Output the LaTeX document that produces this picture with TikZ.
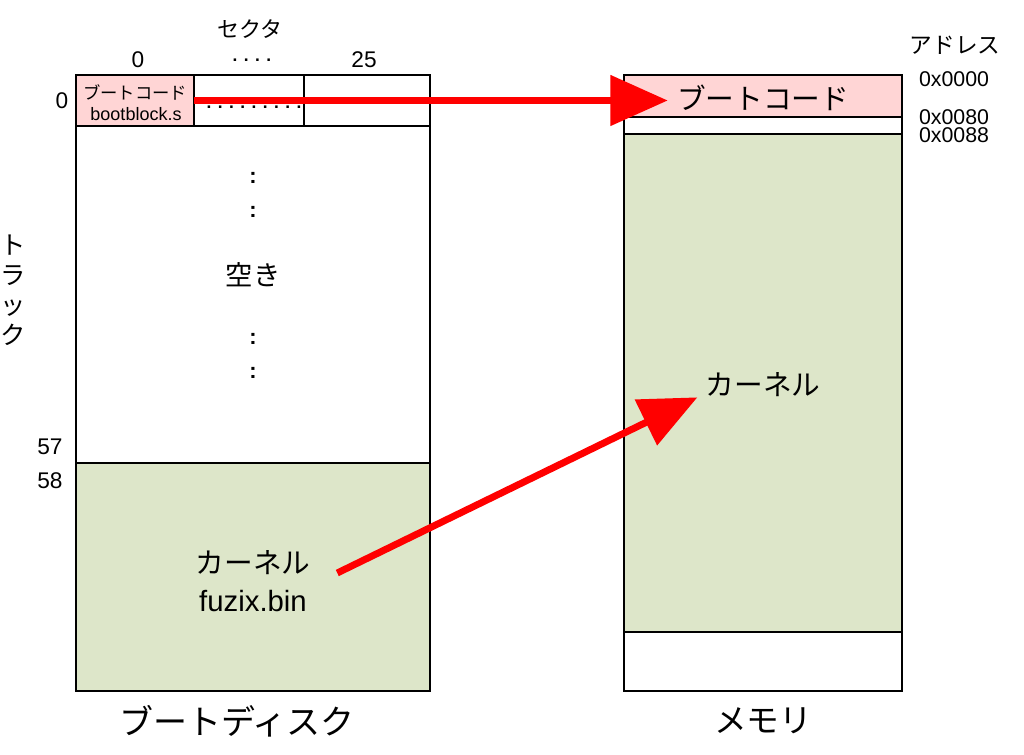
\documentclass[tikz,border=0pt]{standalone}
\usepackage{fontspec}
\setmainfont{Liberation Sans}
\newfontfamily\jp{Noto Sans CJK JP}
\usetikzlibrary{arrows.meta, positioning}
\definecolor{bootpink}{HTML}{FFD5D5}
\definecolor{kernelgreen}{HTML}{DDE6C9}
\tikzset{
	cell/.style={draw, line width=1.5pt, anchor=north west, inner sep=0pt, outer sep=0pt},
	lbl/.style={inner sep=0pt},
	bigarr/.style={-{Triangle[length=43pt, width=37pt]}, line width=5.2pt, red},
}

\begin{document}
\begin{tikzpicture}[x=0.75pt, y=-0.75pt]
	\useasboundingbox (0,0) rectangle (1024,755);
	% boot disk
	\node[cell, fill=bootpink, minimum width=88.5pt, minimum height=38.25pt] (sec0) at (76,75) {};
	\node[cell, minimum width=82.5pt, minimum height=38.25pt] (secmid) at (194,75) {};
	\node[cell, minimum width=94.5pt, minimum height=38.25pt] (sec25) at (304,75) {};
	\node[cell, minimum width=265.5pt, minimum height=252.75pt] (free) at (76,126) {};
	\node[cell, fill=kernelgreen, minimum width=265.5pt, minimum height=171pt] (kdisk) at (76,463) {};
	% memory
	\node[cell, fill=bootpink, minimum width=208.5pt, minimum height=31.5pt] (mboot) at (624,75) {};
	\node[cell, minimum width=208.5pt, minimum height=12.75pt] (mgap) at (624,117) {};
	\node[cell, fill=kernelgreen, minimum width=208.5pt, minimum height=373.5pt] (mkernel) at (624,134) {};
	\node[cell, minimum width=208.5pt, minimum height=44.25pt] (mtail) at (624,632) {};

	% disk labels
	\node[lbl, font=\jp\fontsize{16.5}{20}\selectfont] (sector) at (250,29) {セクタ};
	\node[lbl, font=\fontsize{17}{20}\selectfont] (s0) at (138,60) {0};
	\node[lbl, font=\bfseries\fontsize{13}{16}\selectfont] (sdots) at (252,60) {. . . .};
	\node[lbl, font=\fontsize{17}{20}\selectfont] (s25) at (364,60) {25};
	\node[lbl, font=\fontsize{17}{20}\selectfont] (t0) at (62,101) {0};
	\node[lbl, font=\fontsize{17}{20}\selectfont] (t57) at (50,447) {57};
	\node[lbl, font=\fontsize{17}{20}\selectfont] (t58) at (50,481) {58};
	\node[lbl, align=center, font=\jp\fontsize{19}{22.5}\selectfont] (track) at (13,290) {ト\\ラ\\ッ\\ク};
	\node[lbl, font=\jp\fontsize{13}{16}\selectfont] (bcode) at (135,92) {ブートコード};
	\node[lbl, font=\fontsize{13.5}{16}\selectfont] (bblock) at (136,114) {bootblock.s};
	\node[lbl, font=\bfseries\fontsize{13}{16}\selectfont] (middots) at (254,107) {. . . . . . . . .};
	\foreach \yy/\nm in {178/va, 212/vb, 339/vc, 373/vd}
		\node[lbl, font=\bfseries\fontsize{16.5}{20}\selectfont] (\nm) at (253,\yy) {:};
	\node[lbl, font=\jp\fontsize{20.5}{24}\selectfont] (empty) at (253,275) {空き};
	\node[lbl, font=\jp\fontsize{21.5}{26}\selectfont] (kdtext) at (253,563) {カーネル};
	\node[lbl, font=\fontsize{22}{26}\selectfont] (fuzix) at (253,601) {fuzix.bin};
	\node[lbl, font=\jp\fontsize{25.5}{30}\selectfont] (disk) at (237,721) {ブートディスク};

	% memory labels
	\node[lbl, font=\jp\fontsize{17}{20}\selectfont] (addr) at (955,45) {アドレス};
	\node[lbl, font=\fontsize{16}{19}\selectfont] (a0000) at (954,79) {0x0000};
	\node[lbl, font=\fontsize{16}{19}\selectfont] (a0080) at (954,117) {0x0080};
	\node[lbl, font=\fontsize{16}{19}\selectfont] (a0088) at (954,135) {0x0088};
	\node[inner sep=6.75pt, font=\jp\fontsize{21.5}{26}\selectfont] (bootcode) at (763,98) {ブートコード};
	\node[lbl, font=\jp\fontsize{21.5}{26}\selectfont] (kmtext) at (763,385) {カーネル};
	\node[lbl, font=\jp\fontsize{24.5}{30}\selectfont] (memory) at (763,721) {メモリ};

	% transfers
	\draw[bigarr] (sec0.east) -- (sec0.east -| bootcode.west);
	\draw[bigarr] ([xshift=20pt, yshift=-7.5pt]kdtext.east) -- ([xshift=-6pt]kmtext.south west);
\end{tikzpicture}
\end{document}
